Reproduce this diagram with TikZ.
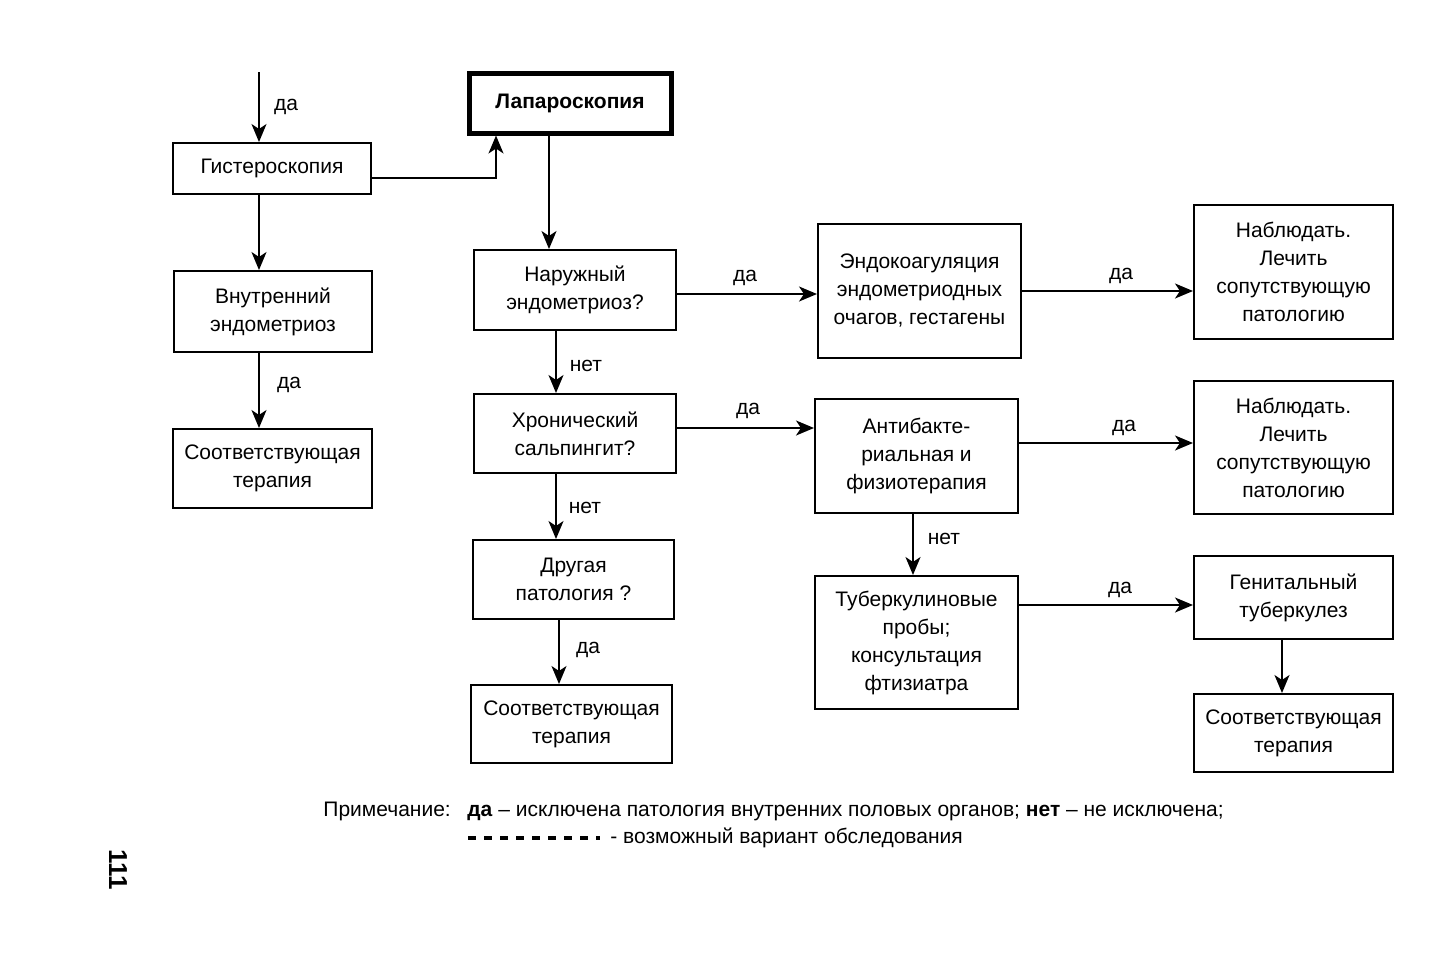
\documentclass[tikz,border=0pt]{standalone}
\usepackage{fontspec}
\setmainfont{Liberation Sans}
\usetikzlibrary{arrows.meta}

\tikzset{
  box/.style={draw, line width=1pt, align=center, inner sep=2pt,
    font=\fontsize{10.5}{14}\selectfont},
  mainbox/.style={box, line width=2.5pt, font=\fontsize{10.5}{14}\selectfont\bfseries},
  arr/.style={line width=1pt, -{Stealth[length=9pt,width=7.5pt,inset=2.5pt]}},
  lbl/.style={font=\fontsize{10.5}{14}\selectfont, inner sep=0pt},
  notetext/.style={font=\fontsize{10.5}{14}\selectfont, inner sep=0pt, anchor=base west}
}

\begin{document}
\begin{tikzpicture}[x=0.5pt, y=-0.5pt]
  \useasboundingbox (0,0) rectangle (1432,960);

  % left column
  \coordinate (start) at (259,72);
  \node[box, minimum width=99pt, minimum height=25.5pt] (gist) at (272,168.5) {Гистероскопия};
  \node[box, minimum width=99pt, minimum height=40.5pt] (vnutr) at (273,311.5) {Внутренний\\эндометриоз};
  \node[box, minimum width=99.5pt, minimum height=39.5pt] (sootvL) at (272.5,468.5) {Соответствующая\\терапия};

  % middle column
  \node[mainbox, minimum width=101pt, minimum height=30pt] (lap) at (570,103) {Лапароскопия};
  \node[box, minimum width=101pt, minimum height=40pt] (naruzh) at (575,290) {Наружный\\эндометриоз?};
  \node[box, minimum width=101pt, minimum height=39.5pt] (hron) at (575,433.5) {Хронический\\сальпингит?};
  \node[box, minimum width=100.5pt, minimum height=39.5pt] (drug) at (573.5,579.5) {Другая\\патология ?};
  \node[box, minimum width=100.5pt, minimum height=39pt] (sootvM) at (571.5,724) {Соответствующая\\терапия};

  % treatment column
  \node[box, minimum width=101.5pt, minimum height=67pt] (endo) at (919.5,291) {Эндокоагуляция\\эндометриодных\\очагов, гестагены};
  \node[box, minimum width=101.5pt, minimum height=57pt] (anti) at (916.5,456) {Антибакте-\\риальная и\\физиотерапия};
  \node[box, minimum width=101.5pt, minimum height=66.5pt] (tub) at (916.5,642.5) {Туберкулиновые\\пробы;\\консультация\\фтизиатра};

  % right column
  \node[box, minimum width=99.5pt, minimum height=67pt] (nabl1) at (1293.5,272) {Наблюдать.\\Лечить\\сопутствующую\\патологию};
  \node[box, minimum width=99.5pt, minimum height=66.5pt] (nabl2) at (1293.5,447.5) {Наблюдать.\\Лечить\\сопутствующую\\патологию};
  \node[box, minimum width=99.5pt, minimum height=41.5pt] (genit) at (1293.5,597.5) {Генитальный\\туберкулез};
  \node[box, minimum width=99.5pt, minimum height=39pt] (sootvR) at (1293.5,733) {Соответствующая\\терапия};

  % connectors
  \draw[arr] (start) -- ([xshift=-6.5pt]gist.north);
  \draw[arr] ([yshift=-4.75pt]gist.east) -| ([xshift=-37pt]lap.south);
  \draw[arr] ([xshift=-6.5pt]gist.south) -- ([xshift=-6.5pt]gist.south |- vnutr.north);
  \draw[arr] ([xshift=-7pt]vnutr.south) -- ([xshift=-7pt]vnutr.south |- sootvL.north);
  \draw[arr] ([xshift=-10.5pt]lap.south) -- ([xshift=-10.5pt]lap.south |- naruzh.north);
  \draw[arr] ([yshift=-2pt]naruzh.east) -- ([yshift=-2pt]naruzh.east -| endo.west);
  \draw[arr] ([xshift=-9.5pt]naruzh.south) -- ([xshift=-9.5pt]naruzh.south |- hron.north);
  \draw[arr] ([yshift=2.75pt]hron.east) -- ([yshift=2.75pt]hron.east -| anti.west);
  \draw[arr] ([xshift=-9.5pt]hron.south) -- ([xshift=-9.5pt]hron.south |- drug.north);
  \draw[arr] ([xshift=-7.25pt]drug.south) -- ([xshift=-7.25pt]drug.south |- sootvM.north);
  \draw[arr] (endo.east) -- (endo.east -| nabl1.west);
  \draw[arr] ([yshift=6.5pt]anti.east) -- ([yshift=6.5pt]anti.east -| nabl2.west);
  \draw[arr] ([xshift=-1.75pt]anti.south) -- ([xshift=-1.75pt]anti.south |- tub.north);
  \draw[arr] ([yshift=18.75pt]tub.east) -- ([yshift=18.75pt]tub.east -| genit.west);
  \draw[arr] ([xshift=-5.75pt]genit.south) -- ([xshift=-5.75pt]genit.south |- sootvR.north);

  % connector labels
  \node[lbl] (l1) at (286,107) {да};
  \node[lbl] (l2) at (289,385) {да};
  \node[lbl] (l3) at (745,278) {да};
  \node[lbl] (l4) at (586,366) {нет};
  \node[lbl] (l5) at (748,411) {да};
  \node[lbl] (l6) at (585,508) {нет};
  \node[lbl] (l7) at (588,650) {да};
  \node[lbl] (l8) at (1121,276) {да};
  \node[lbl] (l9) at (1124,428) {да};
  \node[lbl] (l10) at (944,539) {нет};
  \node[lbl] (l11) at (1120,590) {да};

  % note
  \node[notetext] (notehead) at (323,816) {Примечание:};
  \node[notetext] (notebody) at (467,816) {\textbf{да} – исключена патология внутренних половых органов; \textbf{нет} – не исключена;};
  \coordinate (dashA) at (468,838);
  \coordinate (dashB) at (600,838);
  \draw[line width=2pt, dash pattern=on 4pt off 4pt] (dashA) -- (dashB);
  \node[notetext] (dashtext) at (610,843) {- возможный вариант обследования};

  % page number
  \node[font=\fontsize{13}{13}\selectfont\bfseries, rotate=-90, inner sep=0pt] (pagenum) at (118,870) {111};
\end{tikzpicture}
\end{document}
